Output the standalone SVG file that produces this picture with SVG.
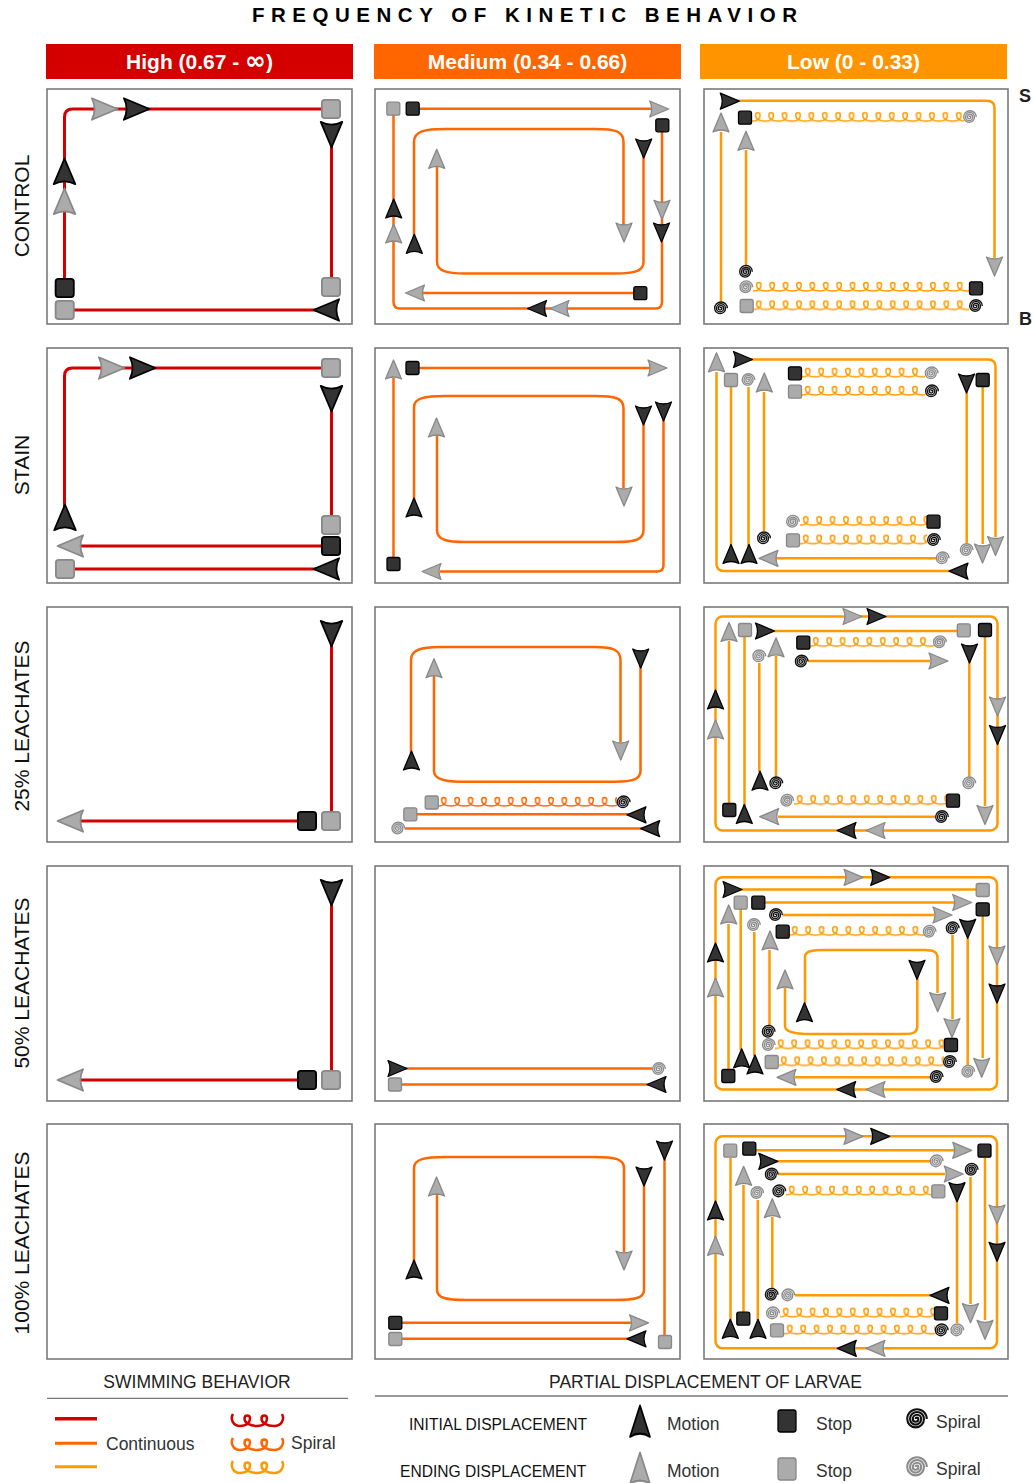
<svg xmlns="http://www.w3.org/2000/svg" width="1033" height="1483" viewBox="0 0 1033 1483">
<style>
text{font-family:"Liberation Sans",Arial,sans-serif}
.box{fill:#fff;stroke:#7a7a7a;stroke-width:1.6}
.R{fill:none;stroke:#d40000;stroke-width:3}
.M{fill:none;stroke:#ff6600;stroke-width:2.5}
.L{fill:none;stroke:#ff9900;stroke-width:2.5}
.dk{fill:#333;stroke:#000;stroke-width:1.3;stroke-linejoin:round}
.gy{fill:#ababab;stroke:#888;stroke-width:1.3;stroke-linejoin:round}
.hd{fill:#fff;font-weight:bold;font-size:21px;text-anchor:middle}
.rl{font-size:21px;text-anchor:middle;fill:#111}
.lg{font-size:17.5px;fill:#222}
.lt{font-size:17.5px;fill:#333}
.sep{stroke:#777;stroke-width:1.3}
</style>
<defs>
<path id="a" class="dk" d="M0,-10 L8,9 Q0,5 -8,9 Z"/>
<path id="g" class="gy" d="M0,-10 L8,9 Q0,5 -8,9 Z"/>
<rect id="s" class="dk" x="-6.5" y="-6.5" width="13" height="13" rx="2"/>
<rect id="q" class="gy" x="-6.5" y="-6.5" width="13" height="13" rx="2"/>
<g id="p"><circle r="6.6" fill="#fff"/><path d="M-0.9,0 A0.9,0.9 0 0 1 0.9,0 A1.8,1.8 0 0 1 -2.7,0 A2.7,2.7 0 0 1 2.7,0 A3.6,3.6 0 0 1 -4.5,0 A4.5,4.5 0 0 1 4.5,0 A5.4,5.4 0 0 1 -6.3,0 A6.3,6.3 0 0 1 6.3,0" fill="none" stroke="#111" stroke-width="1.35"/></g>
<g id="o"><circle r="6.6" fill="#fff"/><path d="M-0.9,0 A0.9,0.9 0 0 1 0.9,0 A1.8,1.8 0 0 1 -2.7,0 A2.7,2.7 0 0 1 2.7,0 A3.6,3.6 0 0 1 -4.5,0 A4.5,4.5 0 0 1 4.5,0 A5.4,5.4 0 0 1 -6.3,0 A6.3,6.3 0 0 1 6.3,0" fill="none" stroke="#8c8c8c" stroke-width="1.35"/></g>
<pattern id="lpL" width="13.4" height="12" patternUnits="userSpaceOnUse"><path d="M0,10 C5,10 8,8 8,4 C8,0.8 3.5,0.8 3.5,4 C3.5,8 7,10 13.4,10" fill="none" stroke="#ff9900" stroke-width="1.5"/></pattern>
<pattern id="lpM" width="13.4" height="12" patternUnits="userSpaceOnUse"><path d="M0,10 C5,10 8,8 8,4 C8,0.8 3.5,0.8 3.5,4 C3.5,8 7,10 13.4,10" fill="none" stroke="#ff6600" stroke-width="1.5"/></pattern>
<path id="lgl" d="M3,1 C0,6 3,13 10,13 C17,13 20,9 20,5.5 C20,1.5 14.5,1.5 14.5,5.5 C14.5,10 20,13 27,13 C34,13 37,9 37,5.5 C37,1.5 31.5,1.5 31.5,5.5 C31.5,10 37,13 44,13 C51,13 55,7 52,1" fill="none" stroke-width="2.5"/>
</defs>

<rect width="1033" height="1483" fill="#fff"/>

<g id="title">
<text x="252" y="22" font-weight="bold" font-size="20.5" textLength="545" lengthAdjust="spacing">FREQUENCY OF KINETIC BEHAVIOR</text>
</g>

<g id="headers">
<rect x="46" y="44" width="307" height="35" fill="#d40000"/>
<text class="hd" x="199.5" y="68.5">High (0.67 - <tspan font-family="DejaVu Sans, sans-serif" font-size="25">∞</tspan>)</text>
<rect x="374" y="44" width="307" height="35" fill="#ff6600"/>
<text class="hd" x="527.5" y="68.5">Medium (0.34 - 0.66)</text>
<rect x="700" y="44" width="307" height="35" fill="#ff9400"/>
<text class="hd" x="853.5" y="68.5">Low (0 - 0.33)</text>
</g>

<g id="rowlabels">
<text class="rl" transform="translate(29,206) rotate(-90)">CONTROL</text>
<text class="rl" transform="translate(29,465) rotate(-90)">STAIN</text>
<text class="rl" transform="translate(29,726) rotate(-90)">25% LEACHATES</text>
<text class="rl" transform="translate(29,983) rotate(-90)">50% LEACHATES</text>
<text class="rl" transform="translate(29,1243) rotate(-90)">100% LEACHATES</text>
<text x="1019" y="101.5" font-weight="bold" font-size="18" fill="#222">S</text>
<text x="1019" y="325" font-weight="bold" font-size="18" fill="#222">B</text>
</g>

<!-- ROW 1 CONTROL -->
<g id="r1c1">
<rect class="box" x="47" y="89" width="305" height="235"/>
<g id="r1c1-conn">
<path class="R" d="M64.5,288 V117 Q64.5,109 72.5,109 H331"/>
<path class="R" d="M331.5,140 V287"/>
<path class="R" d="M65,310 H322"/>
</g>
<use href="#g" transform="translate(104,109) rotate(90) scale(1.35)"/>
<use href="#a" transform="translate(136,109) rotate(90) scale(1.35)"/>
<use href="#q" transform="translate(331,109) scale(1.4)"/>
<use href="#a" transform="translate(331.5,134) rotate(180) scale(1.35)"/>
<use href="#q" transform="translate(331,287) scale(1.4)"/>
<use href="#a" transform="translate(64.5,172) scale(1.35)"/>
<use href="#g" transform="translate(64.5,202) scale(1.35)"/>
<use href="#s" transform="translate(64.7,288) scale(1.4)"/>
<use href="#q" transform="translate(64.7,310) scale(1.4)"/>
<use href="#a" transform="translate(327,310) rotate(-90) scale(1.35)"/>
</g>

<g id="r1c2">
<rect class="box" x="375" y="89" width="305" height="235"/>
<g id="r1c2-conn">
<path class="M" d="M412,108.7 H652"/>
<path class="M" d="M662,125 V302 Q662,308.5 655.5,308.5 H400 Q393.5,308.5 393.5,302 V109"/>
<path class="M" d="M640,293 H420"/>
<path class="M" d="M414,240 V142 C414,131 425,129 445,129 H595 C615,129 623.5,131 623.5,142 V225"/>
<path class="M" d="M437,165 V262 C437,271 447,273.5 465,273.5 H615 C635,273.5 643.5,271 643.5,262 V155"/>
</g>
<use href="#q" transform="translate(393.3,108.7)"/>
<use href="#s" transform="translate(412.7,108.7)"/>
<use href="#g" transform="translate(658.7,109) rotate(90)"/>
<use href="#s" transform="translate(662.3,125.3)"/>
<use href="#g" transform="translate(662,209.3) rotate(180)"/>
<use href="#a" transform="translate(661.5,232) rotate(180)"/>
<use href="#g" transform="translate(560,308.5) rotate(-90)"/>
<use href="#a" transform="translate(537.5,308.5) rotate(-90)"/>
<use href="#g" transform="translate(393.7,234)"/>
<use href="#a" transform="translate(393.7,209)"/>
<use href="#s" transform="translate(640.3,293.2)"/>
<use href="#g" transform="translate(415.5,293) rotate(-90)"/>
<use href="#a" transform="translate(414.3,244.3)"/>
<use href="#g" transform="translate(624,232) rotate(180)"/>
<use href="#g" transform="translate(436.7,159.3)"/>
<use href="#a" transform="translate(643.7,148) rotate(180)"/>
</g>

<g id="r1c3">
<rect class="box" x="704" y="89" width="304" height="235"/>
<g id="r1c3-conn">
<path class="L" d="M735,100.7 H987 Q994.5,100.7 994.5,108 V258"/>
<rect transform="translate(752,111.2)" width="212" height="12" fill="url(#lpL)"/>
<path class="L" d="M721,132 V302"/>
<path class="L" d="M746,150 V265"/>
<rect transform="translate(753,281)" width="216" height="12" fill="url(#lpL)"/>
<rect transform="translate(753,299.5)" width="216" height="12" fill="url(#lpL)"/>
</g>
<use href="#a" transform="translate(729.3,101.2) rotate(90)"/>
<use href="#g" transform="translate(994.5,266) rotate(180)"/>
<use href="#s" transform="translate(745,117.7)"/>
<use href="#o" transform="translate(970,117)"/>
<use href="#g" transform="translate(721,123)"/>
<use href="#p" transform="translate(721,308.3)"/>
<use href="#g" transform="translate(746,141.3)"/>
<use href="#p" transform="translate(746,271.7)"/>
<use href="#o" transform="translate(746.3,287.2)"/>
<use href="#s" transform="translate(976,288.3)"/>
<use href="#q" transform="translate(746.7,306)"/>
<use href="#p" transform="translate(976,306)"/>
</g>

<!-- ROW 2 STAIN -->
<g id="r2c1">
<rect class="box" x="47" y="348" width="305" height="235"/>
<g id="r2c1-conn">
<path class="R" d="M64.5,510 V376 Q64.5,368 72.5,368 H331"/>
<path class="R" d="M331.5,410 V525"/>
<path class="R" d="M331,546 H78"/>
<path class="R" d="M65,569 H322"/>
</g>
<use href="#g" transform="translate(111,368) rotate(90) scale(1.35)"/>
<use href="#a" transform="translate(142,368) rotate(90) scale(1.35)"/>
<use href="#q" transform="translate(331,368) scale(1.4)"/>
<use href="#a" transform="translate(331.5,398) rotate(180) scale(1.35)"/>
<use href="#q" transform="translate(331,525) scale(1.4)"/>
<use href="#a" transform="translate(65,518) scale(1.35)"/>
<use href="#s" transform="translate(331,546) scale(1.4)"/>
<use href="#g" transform="translate(71,546) rotate(-90) scale(1.35)"/>
<use href="#q" transform="translate(65,569) scale(1.4)"/>
<use href="#a" transform="translate(327,569) rotate(-90) scale(1.35)"/>
</g>

<g id="r2c2">
<rect class="box" x="375" y="348" width="305" height="235"/>
<g id="r2c2-conn">
<path class="M" d="M393.5,378 V564"/>
<path class="M" d="M412,368 H650"/>
<path class="M" d="M414,500 V407 C414,398 425,396 445,396 H595 C615,396 623.5,398 623.5,408 V488"/>
<path class="M" d="M437,434 V530 C437,540 447,542 465,542 H615 C635,542 643.5,540 643.5,530 V423"/>
<path class="M" d="M663.5,420 V565 Q663.5,571.5 657,571.5 H440"/>
</g>
<use href="#g" transform="translate(393.5,370)"/>
<use href="#s" transform="translate(393.5,564)"/>
<use href="#s" transform="translate(412.5,368)"/>
<use href="#g" transform="translate(657,368) rotate(90)"/>
<use href="#a" transform="translate(414,508)"/>
<use href="#g" transform="translate(624,496) rotate(180)"/>
<use href="#g" transform="translate(436.5,428)"/>
<use href="#a" transform="translate(643.5,415) rotate(180)"/>
<use href="#a" transform="translate(663.5,411) rotate(180)"/>
<use href="#g" transform="translate(432,571.5) rotate(-90)"/>
</g>

<g id="r2c3">
<rect class="box" x="704" y="348" width="304" height="235"/>
<g id="r2c3-conn">
<path class="L" d="M742,359.5 H988 Q995.5,359.5 995.5,367 V537"/>
<path class="L" d="M955,571 H724 Q716.5,571 716.5,563.5 V372"/>
<path class="L" d="M731,387 V546"/>
<path class="L" d="M748.5,387 V546"/>
<path class="L" d="M764,392 V531"/>
<rect transform="translate(802,366.8)" width="123" height="12" fill="url(#lpL)"/>
<rect transform="translate(802,385)" width="123" height="12" fill="url(#lpL)"/>
<rect transform="translate(800,515.2)" width="127" height="12" fill="url(#lpL)"/>
<rect transform="translate(800,533.7)" width="127" height="12" fill="url(#lpL)"/>
<path class="L" d="M775,558.3 H936"/>
<path class="L" d="M966.7,392 V543"/>
<path class="L" d="M982.7,387 V544"/>
</g>
<use href="#g" transform="translate(716.5,362.8)"/>
<use href="#a" transform="translate(742.5,359.5) rotate(90)"/>
<use href="#g" transform="translate(995.5,545.5) rotate(180)"/>
<use href="#a" transform="translate(959,571.2) rotate(-90)"/>
<use href="#q" transform="translate(731,380)"/>
<use href="#a" transform="translate(731,554.5)"/>
<use href="#o" transform="translate(748.5,380)"/>
<use href="#a" transform="translate(749,554.5)"/>
<use href="#g" transform="translate(764.3,383)"/>
<use href="#p" transform="translate(764,538.3)"/>
<use href="#s" transform="translate(795,373.3)"/>
<use href="#o" transform="translate(931.7,373.3)"/>
<use href="#q" transform="translate(795,391.7)"/>
<use href="#p" transform="translate(932,391.3)"/>
<use href="#o" transform="translate(793,521.7)"/>
<use href="#s" transform="translate(933.5,521.7)"/>
<use href="#q" transform="translate(793,540.3)"/>
<use href="#p" transform="translate(934,540)"/>
<use href="#g" transform="translate(769,558.3) rotate(-90)"/>
<use href="#o" transform="translate(942.7,558.3)"/>
<use href="#a" transform="translate(966.5,383) rotate(180)"/>
<use href="#o" transform="translate(966.7,550)"/>
<use href="#s" transform="translate(982.7,380)"/>
<use href="#g" transform="translate(982.5,553) rotate(180)"/>
</g>

<!-- ROW 3 25% -->
<g id="r3c1">
<rect class="box" x="47" y="607" width="305" height="235"/>
<g id="r3c1-conn">
<path class="R" d="M331.5,645 V821"/>
<path class="R" d="M307,821 H78"/>
</g>
<use href="#a" transform="translate(331.5,633) rotate(180) scale(1.35)"/>
<use href="#q" transform="translate(331,821) scale(1.4)"/>
<use href="#s" transform="translate(307,821) scale(1.4)"/>
<use href="#g" transform="translate(71,821) rotate(-90) scale(1.35)"/>
</g>

<g id="r3c2">
<rect class="box" x="375" y="607" width="305" height="235"/>
<g id="r3c2-conn">
<path class="M" d="M411,753 V660 C411,650 421,647 440,647 H595 C613,647 620.5,650 620.5,660 V742"/>
<path class="M" d="M434,676 V771 C434,779 444,781.7 460,781.7 H615 C633,781.7 640.5,779 640.5,771 V666"/>
<rect transform="translate(438,796)" width="179" height="12" fill="url(#lpM)"/>
<path class="M" d="M410,814.3 H630"/>
<path class="M" d="M398,828.5 H643"/>
</g>
<use href="#a" transform="translate(411.5,761)"/>
<use href="#g" transform="translate(620.7,750) rotate(180)"/>
<use href="#g" transform="translate(434,668.7)"/>
<use href="#a" transform="translate(640.7,658) rotate(180)"/>
<use href="#q" transform="translate(431.7,802.5)"/>
<use href="#p" transform="translate(623.7,802.3)"/>
<use href="#q" transform="translate(410.3,814.3)"/>
<use href="#a" transform="translate(637,814.8) rotate(-90)"/>
<use href="#o" transform="translate(398.3,828.5)"/>
<use href="#a" transform="translate(650.7,828.7) rotate(-90)"/>
</g>

<g id="r3c3">
<rect class="box" x="704" y="607" width="304" height="235"/>
<g id="r3c3-conn">
<rect class="L" x="715.5" y="616.5" width="282" height="214" rx="7"/>
<path class="L" d="M729,641 V805"/>
<path class="L" d="M744.5,637 V806"/>
<path class="L" d="M770,631 H957"/>
<rect transform="translate(810,636.2)" width="124" height="12" fill="url(#lpL)"/>
<path class="L" d="M802,661 H930"/>
<path class="L" d="M759.3,663 V772"/>
<path class="L" d="M776,656 V777"/>
<path class="L" d="M969.3,662 V777"/>
<rect transform="translate(794,794.2)" width="153" height="12" fill="url(#lpL)"/>
<path class="L" d="M778,816.7 H936"/>
<path class="L" d="M985,637 V806"/>
</g>
<use href="#g" transform="translate(852,616.5) rotate(90)"/>
<use href="#a" transform="translate(876,616.5) rotate(90)"/>
<use href="#g" transform="translate(997.5,706) rotate(180)"/>
<use href="#a" transform="translate(997.5,734.5) rotate(180)"/>
<use href="#a" transform="translate(847,830.5) rotate(-90)"/>
<use href="#g" transform="translate(876,830.5) rotate(-90)"/>
<use href="#a" transform="translate(715.5,700)"/>
<use href="#g" transform="translate(715.5,730)"/>
<use href="#g" transform="translate(729,632.5)"/>
<use href="#s" transform="translate(729.3,810)"/>
<use href="#q" transform="translate(745,630)"/>
<use href="#a" transform="translate(744.3,814.5)"/>
<use href="#a" transform="translate(764.5,631) rotate(90)"/>
<use href="#q" transform="translate(963.8,630.3)"/>
<use href="#s" transform="translate(803.3,642.7)"/>
<use href="#o" transform="translate(940,642.2)"/>
<use href="#p" transform="translate(801.7,661.5)"/>
<use href="#g" transform="translate(938,661) rotate(90)"/>
<use href="#o" transform="translate(759.3,656.3)"/>
<use href="#a" transform="translate(760,781.2)"/>
<use href="#g" transform="translate(776,647.8)"/>
<use href="#p" transform="translate(776.3,783.3)"/>
<use href="#a" transform="translate(969.5,653) rotate(180)"/>
<use href="#o" transform="translate(969.3,783.3)"/>
<use href="#o" transform="translate(787.3,800.7)"/>
<use href="#s" transform="translate(953,800.7)"/>
<use href="#g" transform="translate(769.7,816.7) rotate(-90)"/>
<use href="#p" transform="translate(942,817)"/>
<use href="#s" transform="translate(985,630)"/>
<use href="#g" transform="translate(985,814.5) rotate(180)"/>
</g>

<!-- ROW 4 50% -->
<g id="r4c1">
<rect class="box" x="47" y="866" width="305" height="235"/>
<g id="r4c1-conn">
<path class="R" d="M331.5,904 V1080"/>
<path class="R" d="M307,1080 H78"/>
</g>
<use href="#a" transform="translate(331.5,892) rotate(180) scale(1.35)"/>
<use href="#q" transform="translate(331,1080) scale(1.4)"/>
<use href="#s" transform="translate(307,1080) scale(1.4)"/>
<use href="#g" transform="translate(71,1080) rotate(-90) scale(1.35)"/>
</g>

<g id="r4c2">
<rect class="box" x="375" y="866" width="305" height="235"/>
<g id="r4c2-conn">
<path class="M" d="M396,1068.5 H653"/>
<path class="M" d="M395,1084.5 H650"/>
</g>
<use href="#a" transform="translate(397,1068.5) rotate(90)"/>
<use href="#o" transform="translate(659,1069)"/>
<use href="#q" transform="translate(395,1084.5)"/>
<use href="#a" transform="translate(657,1084.5) rotate(-90)"/>
</g>

<g id="r4c3">
<rect class="box" x="704" y="866" width="304" height="235"/>
<g id="r4c3-conn">
<rect class="L" x="715.5" y="877.3" width="281.5" height="212.2" rx="7"/>
<path class="L" d="M738,889.5 H976"/>
<path class="L" d="M740.7,909 V1050"/>
<path class="L" d="M764,902.5 H954"/>
<path class="L" d="M982.7,916 V1058"/>
<path class="L" d="M728.5,924 V1070"/>
<path class="L" d="M782,915 H934"/>
<path class="L" d="M754.3,932 V1056"/>
<rect transform="translate(789,925.2)" width="135" height="12" fill="url(#lpL)"/>
<path class="L" d="M952.5,935 V1019"/>
<path class="L" d="M967.7,938 V1065"/>
<path class="L" d="M769.5,950 V1025"/>
<path class="L" d="M785,988 V1026 C785,1032 795,1034 810,1034 H905 C914,1034 917.3,1032 917.3,1026 V977"/>
<path class="L" d="M805,1004 V957 C805,951 812,950 825,950 H925 C934,950 937.5,952 937.5,958 V993"/>
<rect transform="translate(775,1038.5)" width="170" height="12" fill="url(#lpL)"/>
<rect transform="translate(778,1055.5)" width="166" height="12" fill="url(#lpL)"/>
<path class="L" d="M795,1077.3 H931"/>
</g>
<use href="#g" transform="translate(853,877.3) rotate(90)"/>
<use href="#a" transform="translate(879.7,877.3) rotate(90)"/>
<use href="#g" transform="translate(997,955) rotate(180)"/>
<use href="#a" transform="translate(997,993) rotate(180)"/>
<use href="#g" transform="translate(876,1089.5) rotate(-90)"/>
<use href="#a" transform="translate(846.7,1089.5) rotate(-90)"/>
<use href="#a" transform="translate(715.5,953)"/>
<use href="#g" transform="translate(715.5,988)"/>
<use href="#a" transform="translate(732,889.5) rotate(90)"/>
<use href="#q" transform="translate(982.7,890)"/>
<use href="#q" transform="translate(740.7,902.7)"/>
<use href="#a" transform="translate(741.7,1058.8)"/>
<use href="#s" transform="translate(758.3,902.7)"/>
<use href="#g" transform="translate(961.7,902.5) rotate(90)"/>
<use href="#s" transform="translate(982.7,909.3)"/>
<use href="#g" transform="translate(981.7,1067.3) rotate(180)"/>
<use href="#g" transform="translate(728.7,915)"/>
<use href="#s" transform="translate(728.3,1076)"/>
<use href="#p" transform="translate(776,915)"/>
<use href="#g" transform="translate(942,915) rotate(90)"/>
<use href="#o" transform="translate(754,925)"/>
<use href="#a" transform="translate(755,1065)"/>
<use href="#s" transform="translate(782.7,931.7)"/>
<use href="#o" transform="translate(929.7,931.7)"/>
<use href="#p" transform="translate(952.7,928.3)"/>
<use href="#g" transform="translate(952,1027.5) rotate(180)"/>
<use href="#a" transform="translate(967.7,928.3) rotate(180)"/>
<use href="#o" transform="translate(968.3,1071.7)"/>
<use href="#g" transform="translate(770,941)"/>
<use href="#p" transform="translate(768.7,1031.7)"/>
<use href="#g" transform="translate(785,980)"/>
<use href="#a" transform="translate(917,969.3) rotate(180)"/>
<use href="#a" transform="translate(804.5,1012.7)"/>
<use href="#g" transform="translate(937.7,1001.7) rotate(180)"/>
<use href="#o" transform="translate(768.8,1045)"/>
<use href="#s" transform="translate(951,1045)"/>
<use href="#q" transform="translate(771.7,1062)"/>
<use href="#p" transform="translate(950,1062)"/>
<use href="#g" transform="translate(787,1077.3) rotate(-90)"/>
<use href="#p" transform="translate(936.7,1077)"/>
</g>

<!-- ROW 5 100% -->
<g id="r5c1">
<rect class="box" x="47" y="1124" width="305" height="235"/>
</g>

<g id="r5c2">
<rect class="box" x="375" y="1124" width="305" height="235"/>
<g id="r5c2-conn">
<path class="M" d="M414,1262 V1168 C414,1159 425,1157 445,1157 H595 C615,1157 624,1159 624,1168 V1252"/>
<path class="M" d="M437,1193 V1290 C437,1298 447,1300 465,1300 H615 C635,1300 644,1298 644,1290 V1184"/>
<path class="M" d="M664.5,1158 V1342"/>
<path class="M" d="M395,1322.8 H631"/>
<path class="M" d="M395,1338.8 H630"/>
</g>
<use href="#a" transform="translate(414,1270)"/>
<use href="#g" transform="translate(624,1260) rotate(180)"/>
<use href="#g" transform="translate(436.5,1187)"/>
<use href="#a" transform="translate(644,1176) rotate(180)"/>
<use href="#a" transform="translate(664.5,1150) rotate(180)"/>
<use href="#q" transform="translate(665,1342)"/>
<use href="#s" transform="translate(395.3,1322.8)"/>
<use href="#g" transform="translate(638.5,1322.8) rotate(90)"/>
<use href="#q" transform="translate(395.3,1339)"/>
<use href="#a" transform="translate(637,1338.8) rotate(-90)"/>
</g>

<g id="r5c3">
<rect class="box" x="704" y="1124" width="304" height="235"/>
<g id="r5c3-conn">
<rect class="L" x="715.5" y="1136.3" width="281.5" height="212" rx="7"/>
<path class="L" d="M730.5,1158 V1320"/>
<path class="L" d="M756,1150.3 H954"/>
<path class="L" d="M985,1158 V1320"/>
<path class="L" d="M775,1161.3 H930"/>
<path class="L" d="M778,1174 H945"/>
<path class="L" d="M970.5,1177 V1304"/>
<path class="L" d="M743.5,1185 V1312"/>
<path class="L" d="M757.8,1200 V1320"/>
<rect transform="translate(786,1184.8)" width="146" height="12" fill="url(#lpL)"/>
<path class="L" d="M957,1200 V1323"/>
<path class="L" d="M772.3,1217 V1288"/>
<path class="L" d="M795,1295.3 H932"/>
<rect transform="translate(780,1306.8)" width="155" height="12" fill="url(#lpL)"/>
<rect transform="translate(784,1323.8)" width="151" height="12" fill="url(#lpL)"/>
</g>
<use href="#g" transform="translate(853,1136.3) rotate(90)"/>
<use href="#a" transform="translate(879.7,1136.3) rotate(90)"/>
<use href="#g" transform="translate(997,1214) rotate(180)"/>
<use href="#a" transform="translate(997,1251.3) rotate(180)"/>
<use href="#g" transform="translate(876,1348.3) rotate(-90)"/>
<use href="#a" transform="translate(847.3,1348.3) rotate(-90)"/>
<use href="#a" transform="translate(715.5,1211)"/>
<use href="#g" transform="translate(715.5,1246.3)"/>
<use href="#q" transform="translate(730.3,1150.7)"/>
<use href="#a" transform="translate(730.3,1329.3)"/>
<use href="#s" transform="translate(749.3,1148.7)"/>
<use href="#g" transform="translate(961.7,1150.3) rotate(90)"/>
<use href="#s" transform="translate(984.5,1150.7)"/>
<use href="#g" transform="translate(985,1329.3) rotate(180)"/>
<use href="#a" transform="translate(767.8,1161.3) rotate(90)"/>
<use href="#o" transform="translate(936.7,1161.3)"/>
<use href="#p" transform="translate(771.7,1174.5)"/>
<use href="#g" transform="translate(953.3,1174) rotate(90)"/>
<use href="#p" transform="translate(971.7,1169.7)"/>
<use href="#g" transform="translate(970.5,1312.7) rotate(180)"/>
<use href="#g" transform="translate(743.6,1176.3)"/>
<use href="#s" transform="translate(743.3,1318.7)"/>
<use href="#o" transform="translate(757.3,1193)"/>
<use href="#a" transform="translate(758,1329.3)"/>
<use href="#p" transform="translate(779.3,1191.3)"/>
<use href="#q" transform="translate(938.3,1191.3)"/>
<use href="#a" transform="translate(957,1191.7) rotate(180)"/>
<use href="#o" transform="translate(957.3,1330.3)"/>
<use href="#g" transform="translate(772.3,1208.7)"/>
<use href="#p" transform="translate(771.7,1294.7)"/>
<use href="#o" transform="translate(788.3,1295.3)"/>
<use href="#a" transform="translate(940,1295.3) rotate(-90)"/>
<use href="#o" transform="translate(773,1313.3)"/>
<use href="#s" transform="translate(941,1313.3)"/>
<use href="#q" transform="translate(777,1330.3)"/>
<use href="#p" transform="translate(941.7,1330.3)"/>
</g>

<!-- LEGEND -->
<g id="legend-swimming">
<text class="lg" x="197" y="1388" text-anchor="middle">SWIMMING BEHAVIOR</text>
<line class="sep" x1="47" y1="1398.3" x2="348" y2="1398.3"/>
<line x1="55" y1="1418.7" x2="97" y2="1418.7" stroke="#d40000" stroke-width="3.5"/>
<line x1="55" y1="1443.3" x2="97" y2="1443.3" stroke="#ff6600" stroke-width="3"/>
<line x1="55" y1="1466.7" x2="97" y2="1466.7" stroke="#ff9900" stroke-width="3"/>
<text class="lt" x="106" y="1450">Continuous</text>
<use href="#lgl" transform="translate(230,1413)" stroke="#d40000"/>
<use href="#lgl" transform="translate(230,1437)" stroke="#ff6600"/>
<use href="#lgl" transform="translate(230,1460)" stroke="#ff9900"/>
<text class="lt" x="291" y="1449">Spiral</text>
</g>

<g id="legend-displacement">
<text class="lg" x="705.5" y="1388" text-anchor="middle">PARTIAL DISPLACEMENT OF LARVAE</text>
<line class="sep" x1="375" y1="1396" x2="1008" y2="1396"/>
<text x="409" y="1429.5" font-size="15.6" fill="#111">INITIAL DISPLACEMENT</text>
<text x="400" y="1476.5" font-size="15.6" fill="#111">ENDING DISPLACEMENT</text>
<use href="#a" transform="translate(640,1422) scale(1.25,1.65)"/>
<use href="#g" transform="translate(640,1469) scale(1.25,1.65)"/>
<text class="lt" x="667" y="1429.5">Motion</text>
<text class="lt" x="667" y="1476.5">Motion</text>
<rect class="dk" x="778" y="1410" width="18" height="22" rx="2.5"/>
<rect class="gy" x="778" y="1458" width="18" height="22" rx="2.5"/>
<text class="lt" x="816" y="1430">Stop</text>
<text class="lt" x="816" y="1477">Stop</text>
<use href="#p" transform="translate(917,1419) scale(1.55)"/>
<use href="#o" transform="translate(917,1467) scale(1.55)"/>
<text class="lt" x="936" y="1428">Spiral</text>
<text class="lt" x="936" y="1475">Spiral</text>
</g>
</svg>
